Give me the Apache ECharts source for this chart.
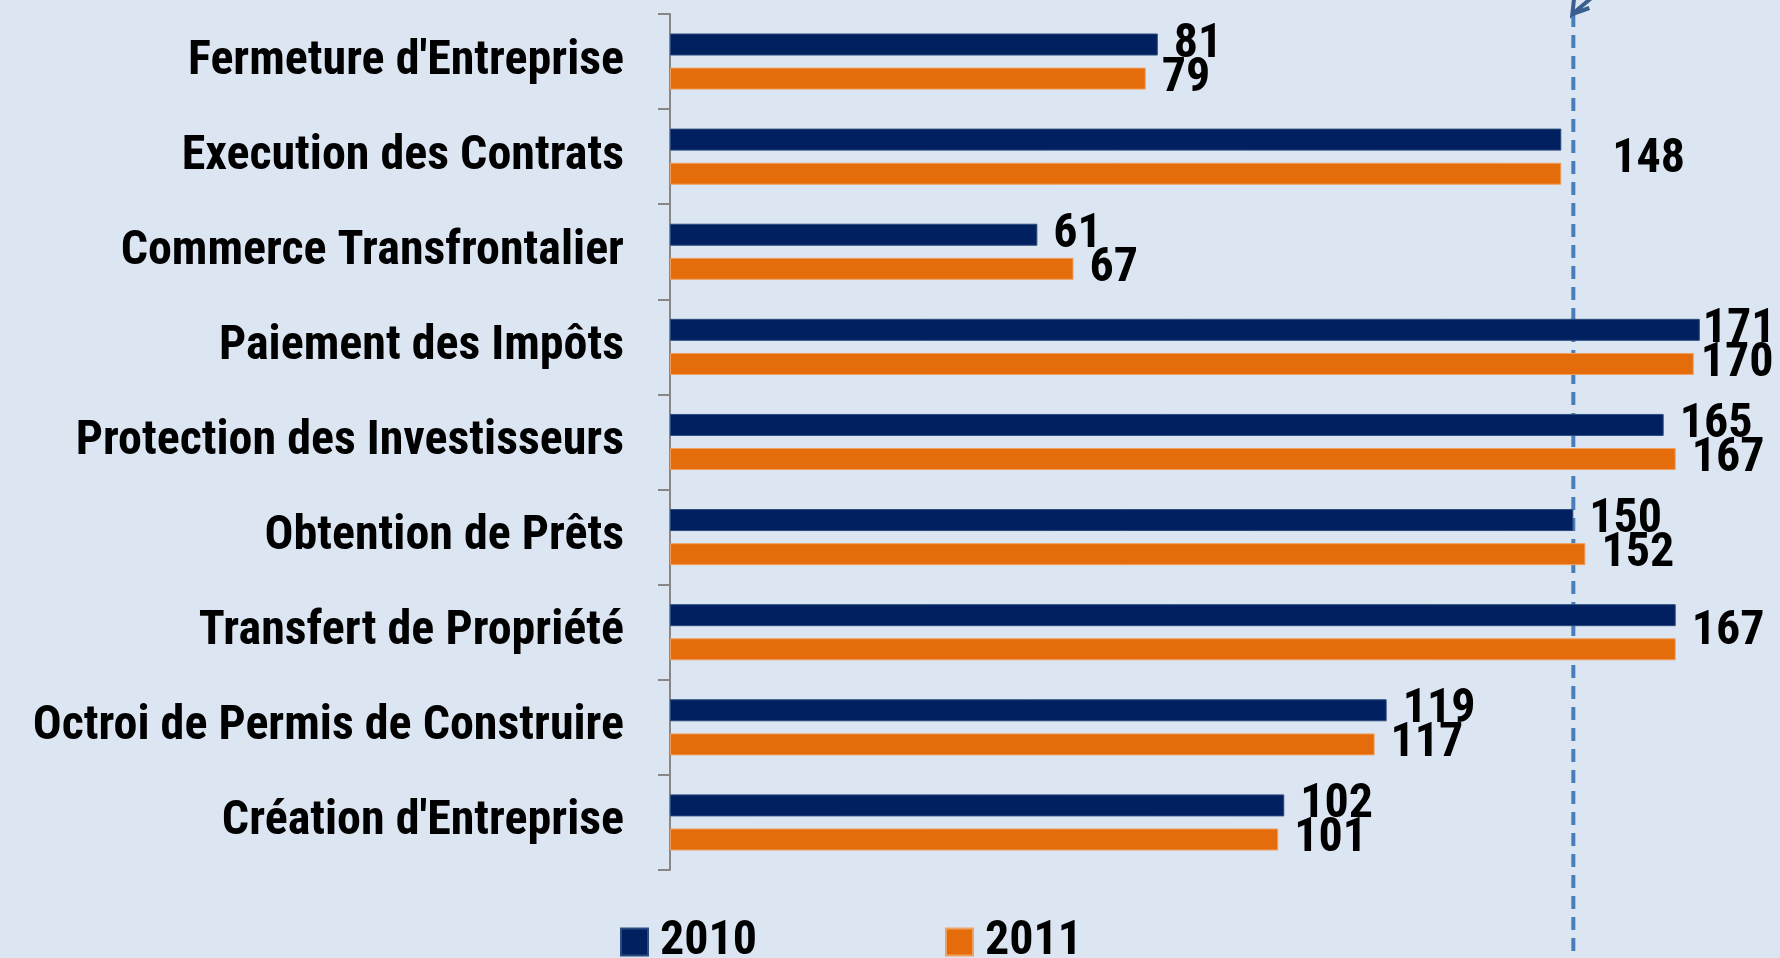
<!DOCTYPE html>
<html>
<head>
<meta charset="utf-8">
<script src="https://cdn.jsdelivr.net/npm/echarts@6/dist/echarts.min.js"></script>
<style>
    html, body { margin: 0; padding: 0; background: #dce6f2; }
    #main { width: 1780px; height: 958px; }
</style>
</head>
<body>
<div id="main"></div>
<script>
// données
const categories = ["Fermeture d'Entreprise", "Execution des Contrats", "Commerce Transfrontalier",
    "Paiement des Impôts", "Protection des Investisseurs", "Obtention de Prêts",
    "Transfert de Propriété", "Octroi de Permis de Construire", "Création d'Entreprise"];
const values2010 = [81, 148, 61, 171, 165, 150, 167, 119, 102];
const values2011 = [79, 148, 67, 170, 167, 152, 167, 117, 101];
const seriesNames = ['2010', '2011'];
const refValue = 150;

const font = '"Roboto Condensed", "Liberation Sans Narrow", "Arial Narrow", Roboto, sans-serif';
const colors = ['#002060', '#e46c0a'];
const fs = 48;

// petits decalages d'etiquettes (comme sur l'original)
const tweak2010 = { 3: [-13, 0] };
const tweak2011 = { 3: [-9, 0] };

function items(vals, other, tweaks, isFirst) {
    return vals.map((v, i) => {
        let d = { value: v };
        if (v === other[i]) {
            // une seule etiquette centree entre les deux barres
            if (isFirst) {
                d.label = { show: false };
            } else {
                d.label = { offset: [i === 1 ? 35 : 0, i === 1 ? -14 : -17] };
            }
        } else if (tweaks[i]) {
            d.label = { offset: tweaks[i] };
        }
        return d;
    });
}

let chart = echarts.init(document.querySelector('#main'));

let labelStyle = {
    color: '#000',
    fontFamily: font,
    fontWeight: 'bold',
    fontSize: fs
};
let legendText = Object.assign({ padding: [0, 0, 0, 7] }, labelStyle);

let option = {
    animation: false,
    backgroundColor: '#dce6f2',
    textStyle: { fontFamily: font },
    grid: {
        left: 670,
        right: 26,
        top: 14,
        bottom: 88,
        containLabel: false,
        outerBoundsMode: 'none'
    },
    legend: [{
        data: [seriesNames[0]],
        left: 620,
        top: 918,
        padding: 0,
        itemWidth: 27,
        itemHeight: 27,
        icon: 'rect',
        textStyle: legendText
    }, {
        data: [seriesNames[1]],
        left: 945,
        top: 918,
        padding: 0,
        itemWidth: 27,
        itemHeight: 27,
        icon: 'rect',
        textStyle: legendText
    }],
    xAxis: {
        type: 'value',
        min: 0,
        max: 180,
        show: false
    },
    yAxis: {
        type: 'category',
        inverse: true,
        data: categories,
        axisLine: { show: true, lineStyle: { color: '#878787', width: 2 } },
        axisTick: { show: true, length: 12, lineStyle: { color: '#878787', width: 2 } },
        axisLabel: Object.assign({ margin: 46 }, labelStyle)
    },
    series: [{
        name: seriesNames[0],
        type: 'bar',
        barWidth: 22,
        barGap: '55%',
        data: items(values2010, values2011, tweak2010, true),
        itemStyle: { color: colors[0], borderColor: '#2b4a7e', borderWidth: 1 },
        label: Object.assign({ show: true, position: 'right', distance: 16 }, labelStyle)
    }, {
        name: seriesNames[1],
        type: 'bar',
        barWidth: 22,
        data: items(values2011, values2010, tweak2011, false),
        itemStyle: { color: colors[1], borderColor: '#f0a060', borderWidth: 1 },
        label: Object.assign({ show: true, position: 'right', distance: 16 }, labelStyle)
    }]
};
chart.setOption(option);

// ligne pointillee de reference + fleche
let rx = chart.convertToPixel({ xAxisIndex: 0 }, refValue);
chart.setOption({
    graphic: [{
        type: 'line',
        z: 1,
        shape: { x1: rx, y1: 14, x2: rx, y2: 958 },
        style: { stroke: '#4a7ebb', lineWidth: 4, lineDash: [13, 8] }
    }, {
        type: 'polyline',
        z: 2,
        shape: { points: [[rx + 30, -12], [rx - 1, 14], [rx + 1, -4]] },
        style: { stroke: '#3a5f8f', lineWidth: 4, fill: null }
    }, {
        type: 'line',
        z: 2,
        shape: { x1: rx - 1, y1: 14, x2: rx + 16, y2: 8 },
        style: { stroke: '#3a5f8f', lineWidth: 4 }
    }]
});
</script>
</body>
</html>
